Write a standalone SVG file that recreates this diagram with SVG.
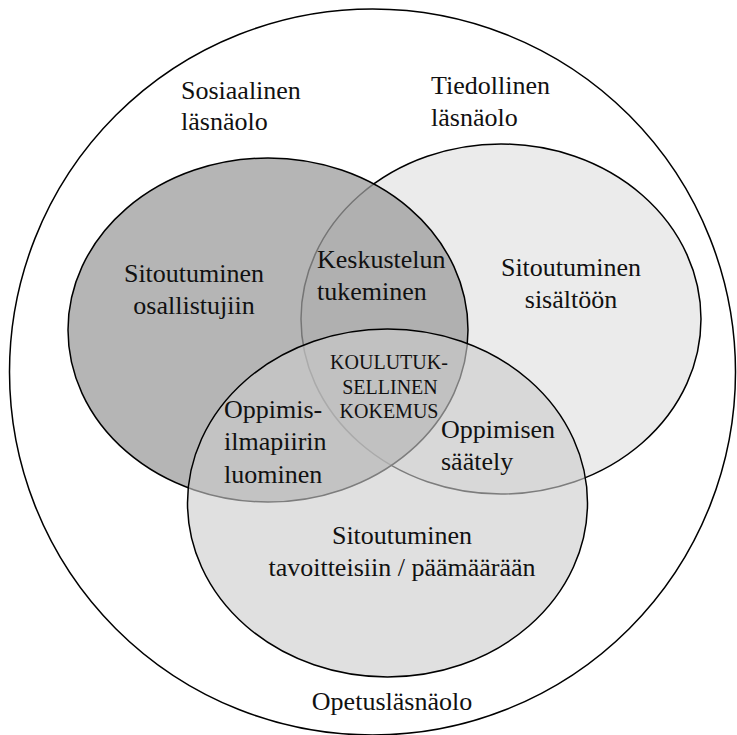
<svg xmlns="http://www.w3.org/2000/svg" width="737" height="735" viewBox="0 0 737 735">
<style>
text{font-family:"Liberation Serif","Times New Roman",serif;font-size:26px;fill:#111}
.c{text-anchor:middle}
.s{font-size:20px}
.e{stroke:#000;stroke-width:1.5}
</style>
<rect width="737" height="735" fill="#fff"/>
<g id="opetus-outer">
<circle cx="372.5" cy="372" r="363" fill="#fff" stroke="#000" stroke-width="1.5"/>
</g>
<g id="tiedollinen">
<ellipse class="e" cx="501" cy="319" rx="200" ry="175" fill="#ebebeb"/>
</g>
<g id="sosiaalinen">
<ellipse class="e" cx="268" cy="330" rx="200" ry="172" fill="#9c9c9c" fill-opacity="0.75"/>
</g>
<g id="opetus">
<ellipse class="e" cx="387.5" cy="503" rx="200" ry="174" fill="#cccccc" fill-opacity="0.61"/>
</g>
<g id="labels">
<text x="181" y="99">Sosiaalinen</text>
<text x="181" y="130">läsnäolo</text>
<text x="431" y="94">Tiedollinen</text>
<text x="431" y="126">läsnäolo</text>
<text class="c" x="194" y="282">Sitoutuminen</text>
<text class="c" x="194" y="314">osallistujiin</text>
<text x="317" y="268">Keskustelun</text>
<text x="317" y="300">tukeminen</text>
<text class="c" x="571" y="276">Sitoutuminen</text>
<text class="c" x="571" y="308">sisältöön</text>
<text class="c s" x="389" y="369">KOULUTUK-</text>
<text class="c s" x="390" y="394">SELLINEN</text>
<text class="c s" x="389" y="418">KOKEMUS</text>
<text x="224" y="418">Oppimis-</text>
<text x="224" y="450">ilmapiirin</text>
<text x="224" y="483">luominen</text>
<text x="441" y="438">Oppimisen</text>
<text x="441" y="470">säätely</text>
<text class="c" x="402" y="544">Sitoutuminen</text>
<text class="c" x="402" y="576">tavoitteisiin / päämäärään</text>
<text class="c" x="392" y="710">Opetusläsnäolo</text>
</g>
</svg>
